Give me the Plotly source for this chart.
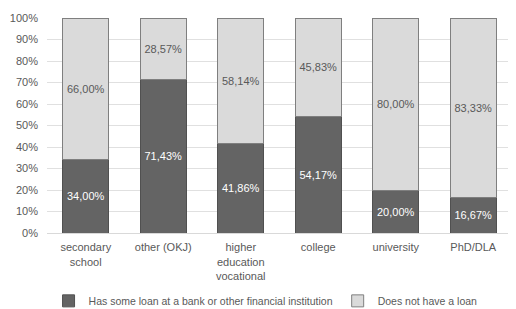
import plotly.graph_objects as go

categories = ["secondary<br>school", "other (OKJ)", "higher<br>education<br>vocational", "college", "university", "PhD/DLA"]
has_loan = [34.00, 71.43, 41.86, 54.17, 20.00, 16.67]
no_loan = [66.00, 28.57, 58.14, 45.83, 80.00, 83.33]
series_names = ["Has some loan at a bank or other financial institution", "Does not have a loan"]
y_ticks = [0, 10, 20, 30, 40, 50, 60, 70, 80, 90, 100]

def fmt(v):
    return f"{v:.2f}".replace(".", ",") + "%"

font_family = "Liberation Sans, Arial, sans-serif"
grey_text = "#595959"

fig = go.Figure()
fig.add_trace(go.Bar(
    x=categories, y=has_loan, name=series_names[0],
    text=[fmt(v) for v in has_loan], textposition="inside", insidetextanchor="middle",
    textfont=dict(color="white", size=11, family=font_family),
    marker=dict(color="#646464", line=dict(color="#505050", width=1)),
    hoverinfo="skip",
))
fig.add_trace(go.Bar(
    x=categories, y=no_loan, name=series_names[1],
    text=[fmt(v) for v in no_loan], textposition="inside", insidetextanchor="middle",
    textfont=dict(color=grey_text, size=11, family=font_family),
    marker=dict(color="#dadada", line=dict(color="#7f7f7f", width=1)),
    hoverinfo="skip",
))

# the page body has an 8px default margin, so the figure is sized to fit the window
fig.update_layout(
    barmode="stack",
    bargap=0.41,
    width=508, height=301,
    margin=dict(l=39, r=4, t=10, b=76, autoexpand=False),
    paper_bgcolor="white", plot_bgcolor="white",
    font=dict(family=font_family, size=11, color=grey_text),
    legend=dict(orientation="h", x=0.47, xanchor="center",
                yref="container", y=0.027, yanchor="middle",
                font=dict(size=10.5, color=grey_text), itemwidth=30,
                traceorder="normal"),
    showlegend=True,
)
fig.update_yaxes(
    range=[0, 100], tickvals=y_ticks, ticktext=[f"{v}%" for v in y_ticks],
    tickfont=dict(color=grey_text, size=11),
    showgrid=True, gridcolor="#e0e0e0", gridwidth=1,
    zeroline=False, showline=False, ticks="", ticklabelstandoff=8,
    automargin=False,
)
fig.update_xaxes(
    showline=True, linecolor="#d9d9d9", ticks="", tickangle=0,
    tickfont=dict(color=grey_text, size=11), ticklabelstandoff=4,
    automargin=False,
)

fig.write_html("out.html")
